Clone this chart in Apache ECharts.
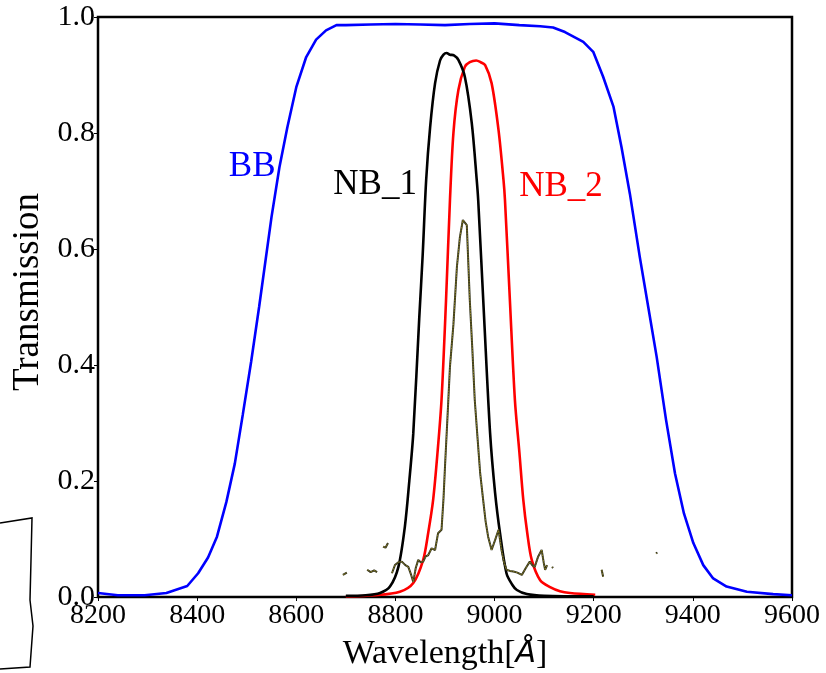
<!DOCTYPE html>
<html>
<head>
<meta charset="utf-8">
<script src="https://cdn.jsdelivr.net/npm/echarts@6/dist/echarts.min.js"></script>
<style>html,body{margin:0;padding:0;background:#fff;}#c{width:826px;height:673px;}</style>
</head>
<body>
<div id="c"></div>
<script>
// ---- data ----
var xTicks = [8200, 8400, 8600, 8800, 9000, 9200, 9400, 9600];
var yTicks = [0.0, 0.2, 0.4, 0.6, 0.8, 1.0];

var bbWave = [8200,8240,8294,8338,8380,8402,8422,8440,8459,8476,8492,8509,8525,8550,8566,8582,8600,8620,8640,8660,8681,8700,8750,8800,8850,8900,8950,9000,9050,9092,9118,9142,9179,9199,9219,9240,9256,9273,9293,9310,9327,9346,9364,9382,9401,9421,9441,9468,9509,9562,9600];
var bbTrans = [0.007,0.003,0.003,0.007,0.019,0.041,0.068,0.104,0.164,0.23,0.314,0.406,0.5,0.655,0.741,0.81,0.879,0.931,0.961,0.977,0.986,0.986,0.987,0.988,0.987,0.986,0.988,0.989,0.986,0.984,0.982,0.974,0.957,0.94,0.897,0.845,0.776,0.695,0.586,0.5,0.414,0.305,0.213,0.144,0.093,0.055,0.032,0.018,0.009,0.005,0.003];

var nb1Wave = [8700,8740,8769,8789,8806,8819,8828,8836,8848,8855,8862,8870,8880,8890,8897,8903,8910,8918,8927,8940,8954,8964,8967,8979,8991,9001,9011,9024,9035,9045,9065,9100,9200];
var nb1Trans = [0.002,0.003,0.007,0.018,0.052,0.121,0.2,0.282,0.48,0.59,0.719,0.81,0.886,0.925,0.935,0.938,0.935,0.934,0.926,0.897,0.817,0.719,0.684,0.48,0.282,0.18,0.11,0.041,0.022,0.012,0.005,0.002,0.001];

var nb2Wave = [8700,8760,8809,8836,8856,8866,8876,8885,8893,8902,8910,8917,8927,8940,8950,8963,8972,8981,8994,9008,9018,9021,9031,9041,9050,9058,9066,9075,9092,9112,9132,9152,9203];
var nb2Trans = [0.001,0.003,0.009,0.024,0.064,0.11,0.167,0.25,0.34,0.51,0.684,0.8,0.874,0.914,0.922,0.925,0.922,0.917,0.886,0.805,0.719,0.684,0.51,0.34,0.25,0.167,0.11,0.064,0.029,0.017,0.01,0.007,0.004];

// observed spectrum; null marks a gap
var specWave = [8694,8702,8722,8743,8750,8757,8763,8770,8775,8780,8785,8789,8793,8799,8806,8813,8820,8826,8831,8836,8841,8846,8851,8856,8861,8866,8873,8880,8886,8893,8897,8900,8905,8910,8917,8924,8930,8936,8944,8950,8955,8960,8966,8971,8977,8982,8987,8994,9001,9008,9014,9019,9024,9031,9038,9046,9055,9063,9071,9076,9081,9088,9095,9099,9102,9106,9111,9116,9118,9160,9216,9219,9280,9326,9328];
var specTrans = [0.038,0.042,null,0.047,0.043,0.046,0.043,null,0.087,0.085,0.093,null,0.041,0.055,0.06,0.061,0.055,0.052,0.04,0.026,0.05,0.064,0.06,0.061,0.07,0.072,0.084,0.081,0.11,0.116,0.17,0.225,0.31,0.397,0.47,0.569,0.62,0.65,0.641,0.512,0.43,0.34,0.27,0.213,0.167,0.13,0.104,0.081,0.098,0.116,0.081,0.06,0.047,0.045,0.044,0.042,0.038,0.05,0.061,0.055,0.052,0.07,0.081,0.06,0.047,0.055,null,0.052,0.05,null,0.047,0.035,null,0.075,0.077];

var labelNames = ['BB', 'NB_1', 'NB_2'];
var labelWave = [8511, 8759, 9134];
var labelTrans = [0.741, 0.71, 0.707];
var labelColors = ['#0000ff', '#000000', '#ff0000'];

function pairs(xs, ys) {
  return xs.map(function (x, i) { return [x, ys[i] === null ? '-' : ys[i]]; });
}

var FONT = '"Liberation Serif", "DejaVu Serif", serif';

var series = [
  { type: 'line', data: pairs(bbWave, bbTrans), symbol: 'none', lineStyle: { color: '#0000ff', width: 2.6 }, z: 3 },
  { type: 'line', data: pairs(specWave, specTrans), symbol: 'none', connectNulls: false, lineStyle: { color: '#2e2e1a', width: 2 }, z: 4 },
  { type: 'line', data: pairs(specWave, specTrans), symbol: 'none', connectNulls: false, lineStyle: { color: '#c9b830', width: 0.8, type: 'dotted' }, z: 4 },
  { type: 'line', data: pairs(nb2Wave, nb2Trans), symbol: 'none', smooth: 0.3, lineStyle: { color: '#ff0000', width: 2.6 }, z: 3 },
  { type: 'line', data: pairs(nb1Wave, nb1Trans), symbol: 'none', smooth: 0.3, lineStyle: { color: '#000000', width: 2.6 }, z: 3 }
];
labelNames.forEach(function (n, i) {
  series.push({
    type: 'scatter', symbolSize: 0, silent: true, z: 5,
    itemStyle: { opacity: 1 },
    data: [[labelWave[i], labelTrans[i]]],
    label: { show: true, position: 'inside', formatter: n, color: labelColors[i], textBorderWidth: 0, opacity: 1, fontFamily: FONT, fontSize: 35 }
  });
});

var chart = echarts.init(document.getElementById('c'), null, { renderer: 'canvas' });
chart.setOption({
  animation: false,
  backgroundColor: '#ffffff',
  grid: { left: 98, right: 34, top: 17, bottom: 76, containLabel: false, outerBoundsMode: 'none', show: true, borderColor: '#000', borderWidth: 2.5, backgroundColor: 'transparent' },
  xAxis: {
    type: 'value', min: xTicks[0], max: xTicks[xTicks.length - 1], interval: 200,
    name: 'Wavelength[{i|Å}]', nameLocation: 'middle', nameGap: 40,
    nameTextStyle: { fontFamily: FONT, fontSize: 34, color: '#000', rich: { i: { fontFamily: '"DejaVu Sans", sans-serif', fontStyle: 'italic', fontSize: 30, color: '#000' } } },
    axisLine: { show: false },
    axisTick: { show: true, inside: false, length: 4, lineStyle: { color: '#000', width: 1 } },
    axisLabel: { color: '#000', fontFamily: FONT, fontSize: 28, margin: 5, formatter: function (v) { return String(v); } },
    splitLine: { show: false }
  },
  yAxis: {
    type: 'value', min: yTicks[0], max: yTicks[yTicks.length - 1], interval: 0.2,
    name: 'Transmission', nameLocation: 'middle', nameGap: 49,
    nameTextStyle: { fontFamily: FONT, fontSize: 37, color: '#000', padding: [0, 0, 0, 30] },
    axisLine: { show: false },
    axisTick: { show: true, inside: false, length: 4, lineStyle: { color: '#000', width: 1 } },
    axisLabel: { color: '#000', fontFamily: FONT, fontSize: 30, margin: 3, formatter: function (v) { return v.toFixed(1); } },
    splitLine: { show: false }
  },
  graphic: [{
    type: 'polyline', silent: true,
    shape: { points: [[0, 523], [32, 518], [31, 560], [30, 600], [33, 626], [30, 667], [0, 669]] },
    style: { stroke: '#000', lineWidth: 1.5, fill: null }
  }],
  series: series
});
</script>
</body>
</html>
